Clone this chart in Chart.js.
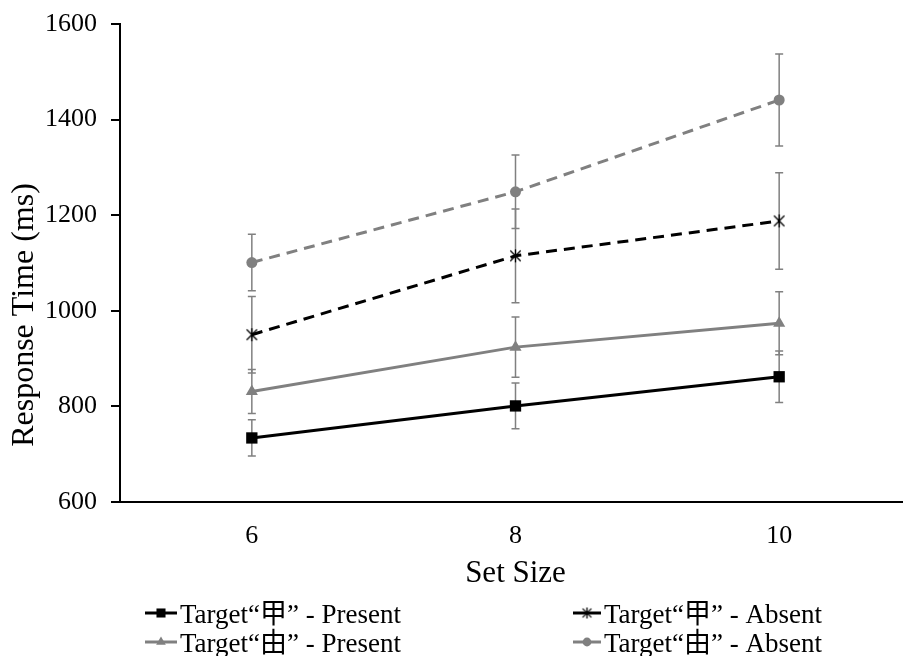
<!DOCTYPE html>
<html>
<head>
<meta charset="utf-8">
<script src="https://cdn.jsdelivr.net/npm/chart.js@4.4.0/dist/chart.umd.min.js"></script>
<style>
  html, body { margin: 0; padding: 0; background: #fff; overflow: hidden; }
  #wrap { width: 919px; height: 656px; }
</style>
</head>
<body>
<div id="wrap"><canvas id="rtChart" width="919" height="656"></canvas></div>
<script>
// data (ms)
const setSizes = ["6", "8", "10"];
const yTicks = [600, 800, 1000, 1200, 1400, 1600];

const jiaPresent = [734, 801, 862];
const jiaPresentErr = [38, 48, 54];
const jiaAbsent = [950, 1115, 1188];
const jiaAbsentErr = [80, 98, 101];
const youPresent = [831, 924, 974];
const youPresentErr = [46, 63, 66];
const youAbsent = [1101, 1249, 1441];
const youAbsentErr = [59, 77, 96];

const serif = "'Liberation Serif', 'Noto Sans CJK SC', serif";
const gray = "#808080";

Chart.defaults.font.family = serif;
Chart.defaults.color = "#000";

// excel-style star marker: an X with a vertical stroke
function makeStar(size) {
  const c = document.createElement("canvas");
  c.width = size;
  c.height = size;
  const g = c.getContext("2d");
  const m = size / 2, r = size / 2 - 1;
  g.strokeStyle = "#000";
  g.lineWidth = 1.3;
  g.beginPath();
  g.moveTo(m - r * 0.8, m - r * 0.8);
  g.lineTo(m + r * 0.8, m + r * 0.8);
  g.moveTo(m + r * 0.8, m - r * 0.8);
  g.lineTo(m - r * 0.8, m + r * 0.8);
  g.moveTo(m, m - r);
  g.lineTo(m, m + r);
  g.stroke();
  return c;
}
const starMark = makeStar(15);
const starMarkSmall = makeStar(13);

// vertical error bars with caps, drawn under the lines
const errorBars = {
  id: "errorBars",
  beforeDatasetsDraw(chart) {
    const ctx = chart.ctx;
    const yScale = chart.scales.y;
    ctx.save();
    ctx.strokeStyle = gray;
    ctx.lineWidth = 1.5;
    chart.data.datasets.forEach((ds, i) => {
      chart.getDatasetMeta(i).data.forEach((pt, j) => {
        const top = yScale.getPixelForValue(ds.data[j] + ds.errors[j]);
        const bot = yScale.getPixelForValue(ds.data[j] - ds.errors[j]);
        ctx.beginPath();
        ctx.moveTo(pt.x, top);
        ctx.lineTo(pt.x, bot);
        ctx.moveTo(pt.x - 4, top);
        ctx.lineTo(pt.x + 4, top);
        ctx.moveTo(pt.x - 4, bot);
        ctx.lineTo(pt.x + 4, bot);
        ctx.stroke();
      });
    });
    ctx.restore();
  }
};

// y title sits a bit below the middle of the axis in the original
const yTitle = {
  id: "yTitle",
  afterDraw(chart) {
    const ctx = chart.ctx;
    ctx.save();
    ctx.translate(33, 315);
    ctx.rotate(-Math.PI / 2);
    ctx.font = "32px " + serif;
    ctx.fillStyle = "#000";
    ctx.textAlign = "center";
    ctx.textBaseline = "alphabetic";
    ctx.fillText("Response Time (ms)", 0, 0);
    ctx.restore();
  }
};

// two-column legend under the axis title
const bottomLegend = {
  id: "bottomLegend",
  afterDraw(chart) {
    const ctx = chart.ctx;
    const colX = [145, 573];
    const rowY = [613, 642];
    chart.data.datasets.forEach((ds, i) => {
      const x = colX[i % 2];
      const y = rowY[Math.floor(i / 2)];
      const w = i % 2 ? 28 : 32;
      ctx.save();
      ctx.strokeStyle = ds.borderColor;
      ctx.lineWidth = 3;
      ctx.beginPath();
      ctx.moveTo(x, y);
      ctx.lineTo(x + w, y);
      ctx.stroke();
      ctx.fillStyle = ds.pointBackgroundColor;
      ctx.strokeStyle = ds.pointBorderColor;
      ctx.lineWidth = ds.pointBorderWidth || 1;
      Chart.helpers.drawPoint(ctx, {
        pointStyle: ds.pointStyle === starMark ? starMarkSmall : ds.pointStyle,
        radius: ds.pointRadius * 0.8,
        borderWidth: ds.pointBorderWidth,
        rotation: 0
      }, x + w / 2, y);
      ctx.fillStyle = "#000";
      ctx.font = "27px " + serif;
      ctx.textBaseline = "alphabetic";
      ctx.textAlign = "left";
      ctx.fillText(ds.label, x + w + 3, y + 10);
      ctx.restore();
    });
  }
};

new Chart(document.getElementById("rtChart"), {
  type: "line",
  data: {
    labels: setSizes,
    datasets: [
      {
        label: "Target“甲” - Present",
        data: jiaPresent,
        errors: jiaPresentErr,
        borderColor: "#000",
        borderWidth: 3,
        pointStyle: "rect",
        pointRadius: 8,
        pointBackgroundColor: "#000",
        pointBorderColor: "#000",
        pointBorderWidth: 0
      },
      {
        label: "Target“甲” - Absent",
        data: jiaAbsent,
        errors: jiaAbsentErr,
        borderColor: "#000",
        borderWidth: 3,
        borderDash: [11, 7],
        pointStyle: starMark,
        pointRadius: 7,
        pointBackgroundColor: "#000",
        pointBorderColor: "#000",
        pointBorderWidth: 0
      },
      {
        label: "Target“由” - Present",
        data: youPresent,
        errors: youPresentErr,
        borderColor: gray,
        borderWidth: 3,
        pointStyle: "triangle",
        pointRadius: 7,
        pointBackgroundColor: gray,
        pointBorderColor: gray,
        pointBorderWidth: 0
      },
      {
        label: "Target“由” - Absent",
        data: youAbsent,
        errors: youAbsentErr,
        borderColor: gray,
        borderWidth: 3,
        borderDash: [11, 7],
        pointStyle: "circle",
        pointRadius: 5.5,
        pointBackgroundColor: gray,
        pointBorderColor: gray,
        pointBorderWidth: 0
      }
    ]
  },
  options: {
    responsive: false,
    animation: false,
    devicePixelRatio: 1,
    layout: { padding: { left: 0, right: 1, top: 24, bottom: 64 } },
    plugins: { legend: { display: false }, tooltip: { enabled: false } },
    scales: {
      x: {
        type: "category",
        offset: true,
        grid: { display: false, drawTicks: false },
        border: { display: true, color: "#000", width: 2 },
        ticks: { font: { size: 26 }, color: "#000", padding: 19 },
        title: { display: true, text: "Set Size", font: { size: 31 }, color: "#000", padding: 0 },
        afterFit(scale) {
          scale.height = 90;
          scale.paddingLeft = 0;
          scale.paddingRight = 0;
        }
      },
      y: {
        min: yTicks[0],
        max: yTicks[yTicks.length - 1],
        ticks: {
          stepSize: yTicks[1] - yTicks[0],
          font: { size: 26 },
          color: "#000",
          padding: 14,
          callback: (v) => String(v)
        },
        grid: { drawOnChartArea: false, drawTicks: true, tickLength: 9, color: "#000", lineWidth: 2 },
        border: { color: "#000", width: 2 },
        title: { display: false },
        afterFit(scale) {
          scale.width = 120;
          scale.paddingTop = 0;
          scale.paddingBottom = 0;
        }
      }
    }
  },
  plugins: [errorBars, yTitle, bottomLegend]
});
</script>
</body>
</html>
